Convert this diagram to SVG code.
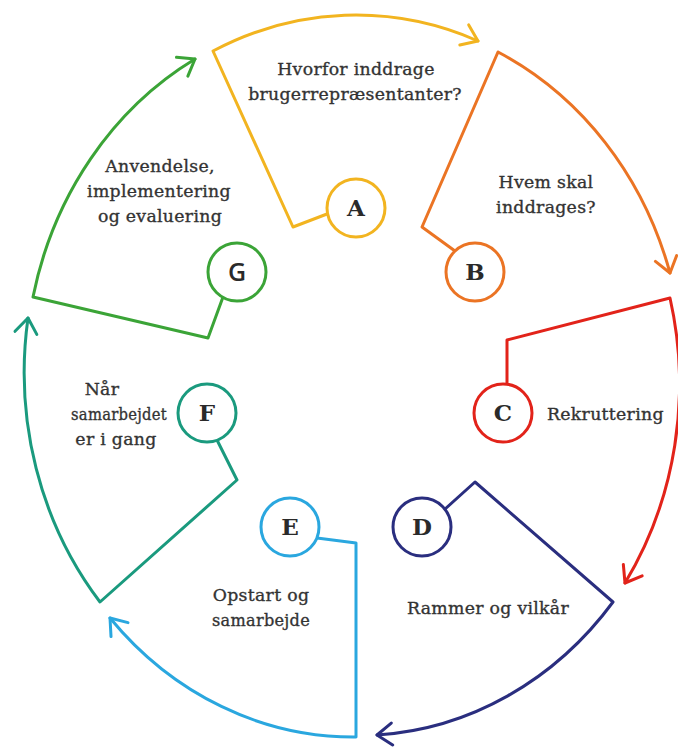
<svg xmlns="http://www.w3.org/2000/svg" width="678" height="747" viewBox="0 0 678 747">
<style>
.seg{fill:none;stroke-width:3;stroke-linejoin:round;stroke-linecap:round}
.ring{fill:#fff;stroke-width:3}
.lbl{font-family:"DejaVu Serif","Liberation Serif",serif;font-size:17.3px;fill:#333;stroke:#333;stroke-width:0.35px;text-anchor:middle;letter-spacing:0.3px}
.lt{font-family:"DejaVu Serif","Liberation Serif",serif;font-size:23px;font-weight:bold;fill:#2a2a2a;text-anchor:middle}
.ltg{font-family:"Open Sans","Noto Sans",sans-serif;font-size:25px;font-weight:600;fill:#2a2a2a;text-anchor:middle}
.c-a{stroke:#F2B420}.c-b{stroke:#EB7424}.c-c{stroke:#E2231A}.c-d{stroke:#2A2E7F}.c-e{stroke:#2AA7DF}.c-f{stroke:#1A9A7E}.c-g{stroke:#3BA437}
</style>
<defs>
<marker id="ah-a" markerUnits="userSpaceOnUse" viewBox="-20 -15 30 30" markerWidth="30" markerHeight="30" refX="0" refY="0" orient="auto"><path d="M -15 -11 L 0 0 L -15 11" class="seg c-a"/></marker>
<marker id="ah-b" markerUnits="userSpaceOnUse" viewBox="-20 -15 30 30" markerWidth="30" markerHeight="30" refX="0" refY="0" orient="auto"><path d="M -15 -11 L 0 0 L -15 11" class="seg c-b"/></marker>
<marker id="ah-c" markerUnits="userSpaceOnUse" viewBox="-20 -15 30 30" markerWidth="30" markerHeight="30" refX="0" refY="0" orient="auto"><path d="M -15 -11 L 0 0 L -15 11" class="seg c-c"/></marker>
<marker id="ah-d" markerUnits="userSpaceOnUse" viewBox="-20 -15 30 30" markerWidth="30" markerHeight="30" refX="0" refY="0" orient="auto"><path d="M -15 -11 L 0 0 L -15 11" class="seg c-d"/></marker>
<marker id="ah-e" markerUnits="userSpaceOnUse" viewBox="-20 -15 30 30" markerWidth="30" markerHeight="30" refX="0" refY="0" orient="auto"><path d="M -15 -11 L 0 0 L -15 11" class="seg c-e"/></marker>
<marker id="ah-f" markerUnits="userSpaceOnUse" viewBox="-20 -15 30 30" markerWidth="30" markerHeight="30" refX="0" refY="0" orient="auto"><path d="M -15 -11 L 0 0 L -15 11" class="seg c-f"/></marker>
<marker id="ah-g" markerUnits="userSpaceOnUse" viewBox="-20 -15 30 30" markerWidth="30" markerHeight="30" refX="0" refY="0" orient="auto"><path d="M -15 -11 L 0 0 L -15 11" class="seg c-g"/></marker>
</defs>
<rect width="678" height="747" fill="#fff"/>
<g id="connectors">
<path class="seg c-a" marker-end="url(#ah-a)" d="M 327 214 L 293 227 L 213 51 A 328 360 0 0 1 478 41"/>
<path class="seg c-b" marker-end="url(#ah-b)" d="M 455 251 L 422 227 L 498 52 A 328 360 0 0 1 670 273"/>
<path class="seg c-c" marker-end="url(#ah-c)" d="M 507 384 L 507 340 L 670 298 A 328 360 0 0 1 625 583"/>
<path class="seg c-d" marker-end="url(#ah-d)" d="M 445 509 L 475 482 L 613 602 A 328 360 0 0 1 377 735"/>
<path class="seg c-e" marker-end="url(#ah-e)" d="M 317 538 L 356 543 L 356 737 A 328 360 0 0 1 110 618"/>
<path class="seg c-f" marker-end="url(#ah-f)" d="M 217 440 L 237 480 L 100 602 A 330 360 0 0 1 28 318"/>
<path class="seg c-g" marker-end="url(#ah-g)" d="M 223 297 L 208 338 L 33 297 A 328 360 0 0 1 195 59"/>
</g>
<g id="node-a">
<circle class="ring c-a" cx="356" cy="208" r="29"/>
<text class="lt" x="356" y="216">A</text>
<text class="lbl" x="356" y="75">Hvorfor inddrage</text>
<text class="lbl" x="355" y="100">brugerrepræsentanter?</text>
</g>
<g id="node-b">
<circle class="ring c-b" cx="475" cy="272" r="29"/>
<text class="lt" x="475" y="280">B</text>
<text class="lbl" x="546" y="188">Hvem skal</text>
<text class="lbl" x="546" y="213">inddrages?</text>
</g>
<g id="node-c">
<circle class="ring c-c" cx="503" cy="413" r="29"/>
<text class="lt" x="503" y="421">C</text>
<text class="lbl" x="547" y="420" style="text-anchor:start">Rekruttering</text>
</g>
<g id="node-d">
<circle class="ring c-d" cx="422" cy="527" r="29"/>
<text class="lt" x="422" y="535">D</text>
<text class="lbl" x="488" y="614">Rammer og vilkår</text>
</g>
<g id="node-e">
<circle class="ring c-e" cx="290" cy="527" r="29"/>
<text class="lt" x="290" y="535">E</text>
<text class="lbl" x="261" y="601">Opstart og</text>
<text class="lbl" x="261" y="626" textLength="98" lengthAdjust="spacingAndGlyphs">samarbejde</text>
</g>
<g id="node-f">
<circle class="ring c-f" cx="207" cy="413" r="29"/>
<text class="lt" x="207" y="421">F</text>
<text class="lbl" x="102" y="395">Når</text>
<text class="lbl" x="119" y="420" textLength="96" lengthAdjust="spacingAndGlyphs">samarbejdet</text>
<text class="lbl" x="116" y="445">er i gang</text>
</g>
<g id="node-g">
<circle class="ring c-g" cx="237" cy="272" r="29"/>
<text class="ltg" x="237" y="281">G</text>
<text class="lbl" x="160" y="172">Anvendelse,</text>
<text class="lbl" x="159" y="197">implementering</text>
<text class="lbl" x="160" y="222">og evaluering</text>
</g>
</svg>
